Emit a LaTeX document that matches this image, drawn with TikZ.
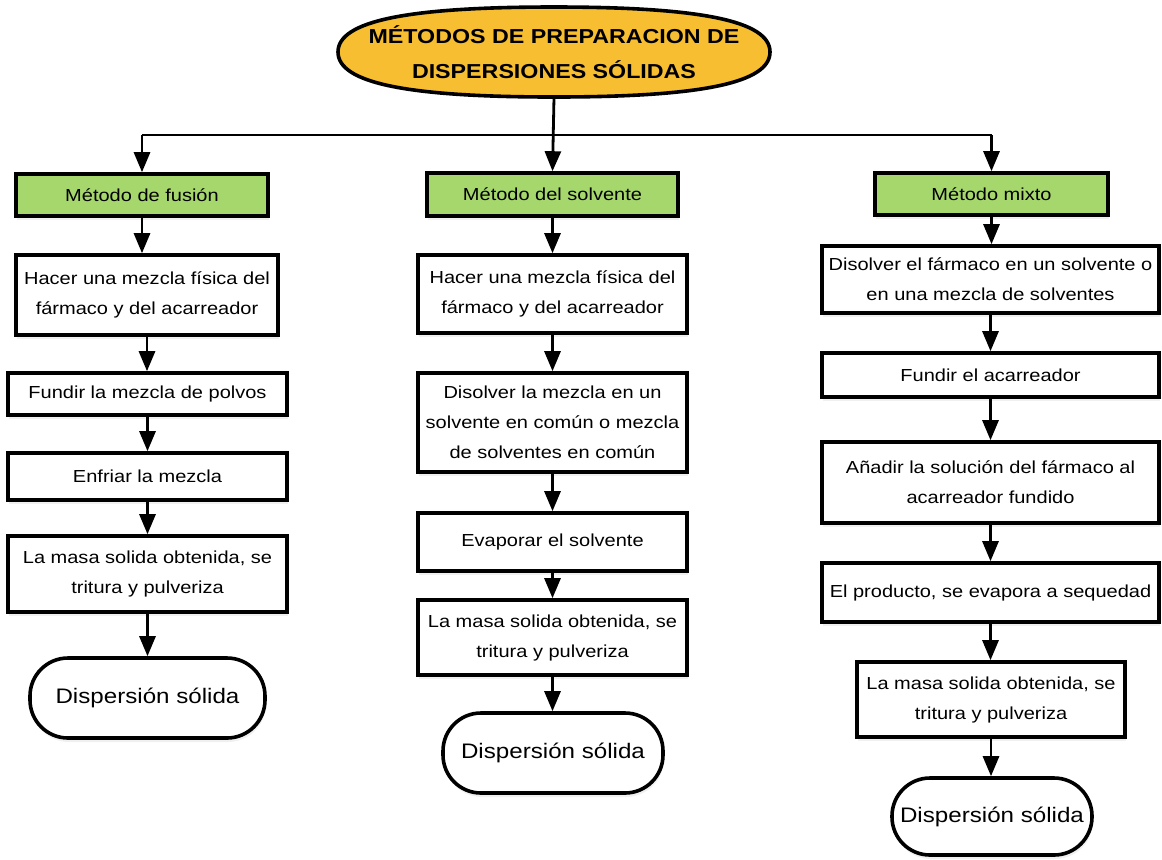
\documentclass[tikz,border=0pt]{standalone}
\usepackage{fontspec}
\setmainfont{Liberation Sans}[FakeStretch=1.15]
\usetikzlibrary{arrows.meta,shadows}
\definecolor{titlefill}{RGB}{246,190,48}
\definecolor{headfill}{RGB}{165,215,108}
\begin{document}
\begin{tikzpicture}[x=0.5pt,y=-0.5pt,
  base/.style={draw=black,line width=1.8pt,align=center,inner sep=2pt,
    font=\fontsize{8.7}{15}\selectfont,
    drop shadow={opacity=0.12,shadow xshift=0.5pt,shadow yshift=-2pt}},
  headbox/.style={base,fill=headfill},
  stepbox/.style={base,fill=white},
  endbox/.style={base,fill=white,rounded corners=19pt,font=\fontsize{10.5}{13}\selectfont},
  titleshape/.style={draw=black,line width=1.8pt,fill=titlefill},
  titlebox/.style={align=center,inner sep=0pt,
    font=\fontsize{10.1}{17.5}\selectfont\bfseries},
  arr/.style={line width=1.4pt,-{Triangle[width=8pt,length=10pt]}},
  link/.style={line width=1.4pt}]
\useasboundingbox (0,0) rectangle (1162,859);
% title (slightly squarish ellipse)
\draw[titleshape] (338,52) .. controls (338,21) and (407,7) .. (554,7)
  .. controls (701,7) and (770,21) .. (770,52)
  .. controls (770,83) and (701,97) .. (554,97)
  .. controls (407,97) and (338,83) .. (338,52) -- cycle;
\node[titlebox,minimum width=216pt,minimum height=45pt] (title) at (554,52)
  {MÉTODOS DE PREPARACION DE\\DISPERSIONES SÓLIDAS};
% headers
\node[headbox,minimum width=126pt,minimum height=21pt] (h1) at (142,195) {Método de fusión};
\node[headbox,minimum width=125.5pt,minimum height=21.5pt] (h2) at (552.5,194.5) {Método del solvente};
\node[headbox,minimum width=116.5pt,minimum height=21pt] (h3) at (991.5,194) {Método mixto};
% left column
\node[stepbox,minimum width=131pt,minimum height=40pt] (l1) at (147,295)
  {Hacer una mezcla física del\\fármaco y del acarreador};
\node[stepbox,minimum width=139.5pt,minimum height=21pt] (l2) at (147.5,394)
  {Fundir la mezcla de polvos};
\node[stepbox,minimum width=139.5pt,minimum height=23.5pt] (l3) at (147.5,476.5)
  {Enfriar la mezcla};
\node[stepbox,minimum width=139.5pt,minimum height=38pt] (l4) at (147.5,574)
  {La masa solida obtenida, se\\tritura y pulveriza};
\node[endbox,minimum width=117.5pt,minimum height=40pt] (l5) at (147.5,698)
  {Dispersión sólida};
% middle column
\node[stepbox,minimum width=134.5pt,minimum height=39pt] (m1) at (552.5,294)
  {Hacer una mezcla física del\\fármaco y del acarreador};
\node[stepbox,minimum width=134.5pt,minimum height=49.5pt] (m2) at (552.5,422.5)
  {Disolver la mezcla en un\\solvente en común o mezcla\\de solventes en común};
\node[stepbox,minimum width=134.5pt,minimum height=29pt] (m3) at (552.5,542)
  {Evaporar el solvente};
\node[stepbox,minimum width=134.5pt,minimum height=37.5pt] (m4) at (552.5,637.5)
  {La masa solida obtenida, se\\tritura y pulveriza};
\node[endbox,minimum width=110pt,minimum height=40pt] (m5) at (553,753)
  {Dispersión sólida};
% right column
\node[stepbox,minimum width=168.5pt,minimum height=33.5pt] (r1) at (990.5,279.5)
  {Disolver el fármaco en un solvente o\\en una mezcla de solventes};
\node[stepbox,minimum width=168.5pt,minimum height=22pt] (r2) at (990.5,375)
  {Fundir el acarreador};
\node[stepbox,minimum width=168.5pt,minimum height=40.5pt] (r3) at (990.5,482.5)
  {Añadir la solución del fármaco al\\acarreador fundido};
\node[stepbox,minimum width=168.5pt,minimum height=29.5pt] (r4) at (990.5,592.5)
  {El producto, se evapora a sequedad};
\node[stepbox,minimum width=134pt,minimum height=37.5pt] (r5) at (991,699.5)
  {La masa solida obtenida, se\\tritura y pulveriza};
\node[endbox,minimum width=100pt,minimum height=38.5pt] (r6) at (992,816.5)
  {Dispersión sólida};
% connectors from title
\coordinate (j) at (553,135);
\draw[arr] (title.south) -- (h2.north);
\draw[link] (h1.north |- j) -- (h3.north |- j);
\draw[arr] (h1.north |- j) -- (h1.north);
\draw[arr] (h3.north |- j) -- (h3.north);
% left column arrows
\draw[arr] (h1.south) -- (h1.south |- l1.north);
\draw[arr] (l1.south) -- (l1.south |- l2.north);
\draw[arr] (l2.south) -- (l2.south |- l3.north);
\draw[arr] (l3.south) -- (l3.south |- l4.north);
\draw[arr] (l4.south) -- (l4.south |- l5.north);
% middle column arrows
\draw[arr] (h2.south) -- (h2.south |- m1.north);
\draw[arr] (m1.south) -- (m1.south |- m2.north);
\draw[arr] (m2.south) -- (m2.south |- m3.north);
\draw[arr] (m3.south) -- (m3.south |- m4.north);
\draw[arr] (m4.south) -- (m4.south |- m5.north);
% right column arrows
\draw[arr] (h3.south) -- (h3.south |- r1.north);
\draw[arr] (r1.south) -- (r1.south |- r2.north);
\draw[arr] (r2.south) -- (r2.south |- r3.north);
\draw[arr] (r3.south) -- (r3.south |- r4.north);
\draw[arr] (r4.south) -- (r4.south |- r5.north);
\draw[arr] (r5.south) -- (r5.south |- r6.north);
\end{tikzpicture}
\end{document}
